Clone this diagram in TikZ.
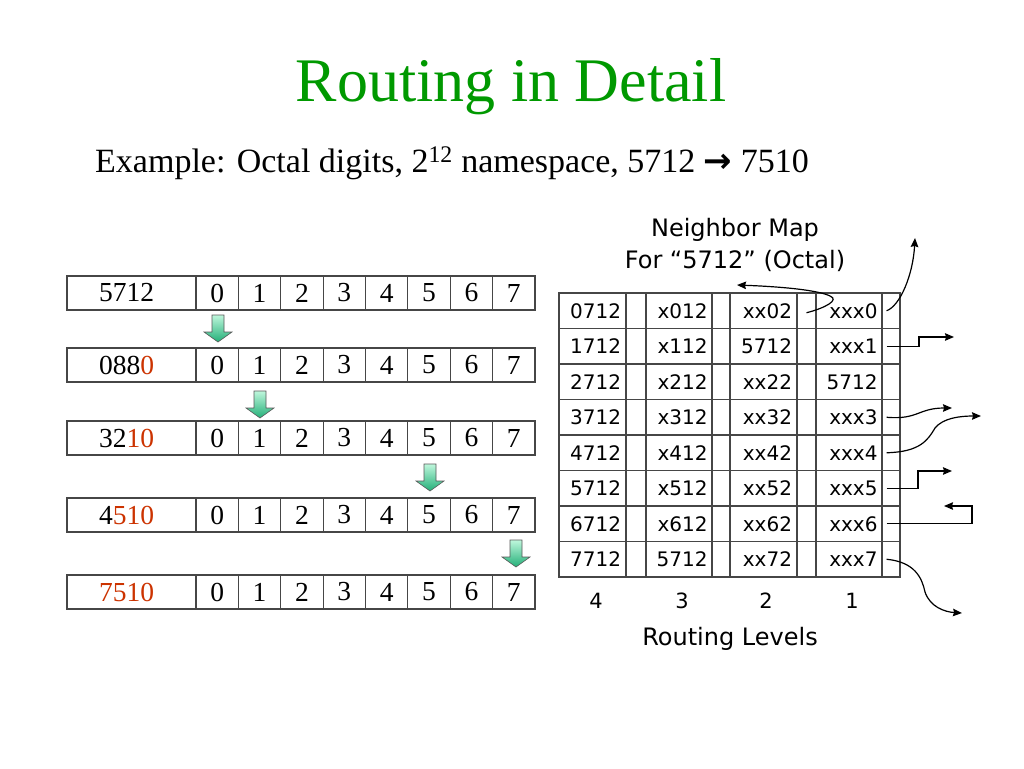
\documentclass[tikz,border=0pt]{standalone}
\usepackage{fontspec}
\setmainfont{Liberation Serif}
\newfontfamily\tabfont{DejaVu Sans}
\newfontfamily\symfont{DejaVu Sans}
\usetikzlibrary{arrows.meta}
\definecolor{titlegreen}{RGB}{0,153,0}
\definecolor{digred}{RGB}{204,51,0}
\definecolor{gridgray}{RGB}{70,70,70}
\definecolor{mintlight}{RGB}{190,247,220}
\definecolor{mintdark}{RGB}{35,175,120}
\newcommand\redd[1]{\textcolor{digred}{#1}}
\tikzset{
  lbox/.style={draw=gridgray, line width=1.1pt, minimum width=129pt, minimum height=34pt,
    inner xsep=32pt, inner ysep=0pt, text width=65pt, align=left, font=\fontsize{27.5}{27.5}\selectfont},
  cbox/.style={draw=gridgray, line width=1.1pt, minimum width=42.375pt, minimum height=34pt,
    inner sep=0pt, font=\fontsize{27.5}{27.5}\selectfont},
  tcell/.style={draw=gridgray, line width=1.1pt, minimum width=#1, minimum height=35.5pt,
    inner xsep=4.5pt, inner ysep=0pt, text width=57pt, align=right, font=\tabfont\fontsize{20}{20}\selectfont},
  bcell/.style={draw=gridgray, line width=1.1pt, minimum width=#1, minimum height=35.5pt, inner sep=0pt},
  conn/.style={draw=black, line width=1.2pt, -{Stealth[length=9pt,width=7.5pt,inset=1pt]}},
  garrowfill/.style={draw=black!65, line width=0.6pt, top color=mintlight, bottom color=mintdark},
  garrow/.pic={\path[garrowfill] (-6,0) -- (6,0) -- (6,17) -- (14,17) -- (0,27) -- (-14,17) -- (-6,17) -- cycle;},
  headlbl/.style={font=\tabfont\fontsize{24}{24}\selectfont, anchor=base, inner sep=0pt},
  lvl/.style={font=\tabfont\fontsize{21}{21}\selectfont, anchor=base, inner sep=0pt}
}
\begin{document}
\begin{tikzpicture}[x=1pt,y=-1pt]
\fill[white] (0,0) rectangle (1024,768);
\useasboundingbox (0,0) rectangle (1024,768);

% title and subtitle
\node[font=\fontsize{62}{62}\selectfont, text=titlegreen, anchor=base, inner sep=0pt] (title) at (511,101) {Routing in Detail};
\node[font=\fontsize{34}{34}\selectfont, anchor=base west, inner sep=0pt] (sub) at (95,172)
  {Example: Octal digits, 2\textsuperscript{12} namespace, 5712 {\symfont\bfseries →} 7510};

% left arrays
\foreach \r/\yc/\lab in {1/293/5712, 2/365/088\redd{0}, 3/438/32\redd{10}, 4/515/4\redd{510}, 5/592/\redd{7510}}{
  \node[lbox] (L\r) at (131.5,\yc) {\lab};
  \foreach \k in {0,...,7}{
    \node[cbox] (C\r-\k) at ({196+42.375*(\k+0.5)},\yc) {\k};
  }
}

% green step arrows
\pic at (218,315) {garrow};
\pic at (260,391) {garrow};
\pic at (430,464) {garrow};
\pic at (516,540) {garrow};

% neighbor map heading
\node[headlbl] (nm1) at (735,236) {Neighbor Map};
\node[headlbl] (nm2) at (735,268) {For “5712” (Octal)};

% neighbor table
\foreach \i/\a/\b/\c/\d in {1/0712/x012/xx02/xxx0, 2/1712/x112/5712/xxx1, 3/2712/x212/xx22/5712,
  4/3712/x312/xx32/xxx3, 5/4712/x412/xx42/xxx4, 6/5712/x512/xx52/xxx5, 7/6712/x612/xx62/xxx6,
  8/7712/5712/xx72/xxx7}{
  \pgfmathsetmacro\yc{293+35.5*(\i-0.5)}
  \node[tcell=67pt] (t\i-1) at (592.5,\yc) {\a};
  \node[bcell=20pt] (b\i-1) at (636,\yc) {};
  \node[tcell=66pt] (t\i-2) at (679,\yc) {\b};
  \node[bcell=18pt] (b\i-2) at (721,\yc) {};
  \node[tcell=67pt] (t\i-3) at (763.5,\yc) {\c};
  \node[bcell=19pt] (b\i-3) at (806.5,\yc) {};
  \node[tcell=66pt] (t\i-4) at (849,\yc) {\d};
  \node[bcell=18pt] (b\i-4) at (891,\yc) {};
}

% routing levels
\node[lvl] (lv4) at (596,608) {4};
\node[lvl] (lv3) at (682,608) {3};
\node[lvl] (lv2) at (766,608) {2};
\node[lvl] (lv1) at (852,608) {1};
\node[headlbl] (rl) at (730,645) {Routing Levels};

% free ends of the pointers
\coordinate (e0) at (915,238);
\coordinate (eL) at (737,285);
\coordinate (e1a) at (919,337);
\coordinate (e1) at (954,337);
\coordinate (e3) at (952,408);
\coordinate (e4) at (981,416);
\coordinate (e5a) at (918,471);
\coordinate (e5) at (952,471);
\coordinate (e6a) at (972,506);
\coordinate (e6) at (944,506);
\coordinate (e7) at (962,613);

% pointers
\draw[conn] ([xshift=4pt]t1-4.east) .. controls (900,306) and (913,275) .. (e0);
\draw[conn] ([yshift=-2pt]b1-3.center) .. controls (825,308) and (840,300) .. (830,296)
  .. controls (820,291) and (790,287) .. (eL);
\draw[conn] ([xshift=4pt]t2-4.east) -| (e1a) -- (e1);
\draw[conn] ([xshift=4pt]t4-4.east) .. controls (918,420) and (918,408) .. (e3);
\draw[conn] ([xshift=4pt]t5-4.east) .. controls (920,452) and (928,440) .. (935,428)
  .. controls (943,418) and (960,416) .. (e4);
\draw[conn] ([xshift=4pt]t6-4.east) -| (e5a) -- (e5);
\draw[conn] ([xshift=4pt]t7-4.east) -| (e6a) -- (e6);
\draw[conn] ([xshift=4pt]t8-4.east) .. controls (915,562) and (922,578) .. (925,592)
  .. controls (930,607) and (945,612) .. (e7);
\end{tikzpicture}
\end{document}
